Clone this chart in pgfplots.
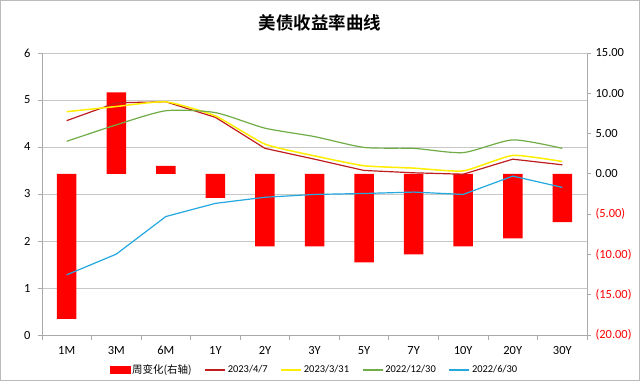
\documentclass[border=0pt]{standalone}
\usepackage{pgfplots}
\pgfplotsset{compat=1.18}
\usepackage{fontspec}
\setmainfont{Carlito}
\newfontfamily\cjk{Noto Sans CJK SC}
\newfontfamily\cjkb{Noto Sans CJK SC Bold}
\definecolor{cDR}{RGB}{192,30,30}
\definecolor{cYE}{RGB}{255,238,0}
\definecolor{cGR}{RGB}{112,173,71}
\definecolor{cBL}{RGB}{35,168,224}
\definecolor{cGrid}{RGB}{200,200,200}
\definecolor{cAx}{RGB}{170,170,170}
\pgfplotstableread{
x chg
0 -18.0
1 10.1
2 1.0
3 -3.0
4 -9.0
5 -9.0
6 -11.0
7 -10.0
8 -9.0
9 -8.0
10 -6.0
}\bars
\pgfplotstableread{
x a b c d
0 4.56 4.75 4.12 1.28
1 4.94 4.86 4.47 1.72
2 4.96 4.96 4.77 2.52
3 4.63 4.66 4.73 2.80
4 3.97 4.06 4.40 2.93
5 3.74 3.81 4.22 2.99
6 3.50 3.60 3.99 3.01
7 3.45 3.55 3.97 3.04
8 3.42 3.49 3.88 2.99
9 3.74 3.82 4.15 3.38
10 3.62 3.69 3.97 3.14
}\lines
\begin{document}
\begin{tikzpicture}[x=1bp,y=1bp]
\draw[cAx!80, line width=0.8bp, fill=white] (0.5,0.5) rectangle (639.5,380.5);
\node[font=\cjkb\fontsize{17.5}{20}\selectfont] at (320,358) {美债收益率曲线};
% main axis: left scale, grid, x labels
\begin{axis}[at={(42bp,46bp)}, anchor=south west, scale only axis,
  width=545bp, height=282bp,
  xmin=-0.5, xmax=10.5, ymin=0, ymax=6,
  ytick={0,1,...,6},
  ymajorgrids, grid style={cGrid, line width=0.8bp},
  axis y line*=left, axis x line*=bottom,
  axis line style={cAx, line width=0.8bp, -},
  xtick={0,1,...,10},
  xticklabels={1M,3M,6M,1Y,2Y,3Y,5Y,7Y,10Y,20Y,30Y},
  major x tick style={draw=none},
  minor xtick={-0.5,0.5,...,10.5},
  minor x tick style={cAx, line width=0.8bp},
  major y tick style={cAx, line width=0.8bp},
  tick align=outside, major tick length=4bp, minor tick length=5bp,
  ticklabel style={font=\fontsize{12.5}{14}\selectfont},
  /pgf/number format/assume math mode=true,
  xticklabel style={yshift=-4bp},
  yticklabel style={xshift=-4bp},
]
\end{axis}
% right axis: bars
\begin{axis}[at={(42bp,46bp)}, anchor=south west, scale only axis,
  width=545bp, height=282bp,
  xmin=-0.5, xmax=10.5, ymin=-20, ymax=15,
  axis x line=none, axis y line*=right,
  axis line style={cAx, line width=0.8bp, -},
  ytick={-20,-15,...,15},
  yticklabels={\textcolor{red}{(20.00)},\textcolor{red}{(15.00)},\textcolor{red}{(10.00)},\textcolor{red}{(5.00)},0.00,5.00,10.00,15.00},
  major y tick style={cAx, line width=0.8bp},
  tick align=outside, major tick length=4bp,
  ticklabel style={font=\fontsize{12.5}{14}\selectfont},
  yticklabel style={xshift=1bp},
]
\addplot[ybar, bar width=19.5bp, fill=red, draw=none] table[x=x, y=chg] {\bars};
\end{axis}
% lines
\begin{axis}[at={(42bp,46bp)}, anchor=south west, scale only axis,
  width=545bp, height=282bp,
  xmin=-0.5, xmax=10.5, ymin=0, ymax=6, hide axis,
  legend style={at={(0.5,-0.124)}, anchor=center, legend columns=5, draw=none, fill=none,
    font=\fontsize{10.5}{12}\selectfont,
    /tikz/every even column/.append style={column sep=11bp}},
  legend cell align=left,
  legend image code/.code={\draw[#1, line width=1.2bp] (0bp,0bp) -- (20bp,0bp);},
]
\addlegendimage{legend image code/.code={\fill[red] (0bp,-3.5bp) rectangle (20bp,3.5bp);}}
\addlegendentry{\cjk 周变化(右轴)}
\addplot[cDR, line width=1.2bp] table[x=x, y=a] {\lines};
\addlegendentry{2023/4/7}
\addplot[cYE, line width=1.5bp, smooth, tension=0.3] table[x=x, y=b] {\lines};
\addlegendentry{2023/3/31}
\addplot[cGR, line width=1.2bp, smooth, tension=0.4] table[x=x, y=c] {\lines};
\addlegendentry{2022/12/30}
\addplot[cBL, line width=1.2bp] table[x=x, y=d] {\lines};
\addlegendentry{2022/6/30}
\end{axis}
\end{tikzpicture}
\end{document}
